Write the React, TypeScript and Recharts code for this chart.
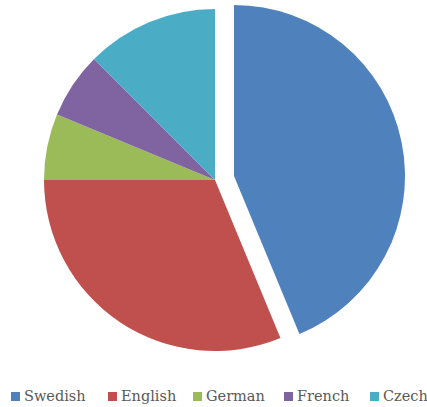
import React from "react";
import { PieChart, Pie, Cell, Legend } from "recharts";

const languages = ["Swedish", "English", "German", "French", "Czech"];
const counts = [7, 5, 1, 1, 2];
const colors = ["#4F81BD", "#C0504D", "#9BBB59", "#8064A2", "#4BACC6"];

const data = languages.map((name, i) => ({ name, value: counts[i] }));

const legendX = [11, 108, 193, 284, 370];

const renderLegend = () => {
  return (
    <div style={{ position: "relative", width: 427, height: 20 }}>
      {languages.map((name, i) => (
        <div
          key={name}
          style={{
            position: "absolute",
            left: legendX[i],
            top: 0,
            display: "flex",
            alignItems: "center",
            height: 20,
            whiteSpace: "nowrap",
          }}
        >
          <span style={{ display: "inline-block", width: 9, height: 9, background: colors[i], marginRight: 4 }} />
          <span style={{ fontFamily: "'DejaVu Serif', serif", fontSize: 14.5, color: "#595959" }}>{name}</span>
        </div>
      ))}
    </div>
  );
};

export default function App() {
  return (
    <div style={{ position: "absolute", left: 0, top: 0, width: 427, height: 407, background: "#fff" }}>
      <PieChart width={427} height={407} margin={{ top: 0, right: 0, bottom: 0, left: 0 }}>
        <Pie
          data={data}
          dataKey="value"
          nameKey="name"
          cx={215}
          cy={180}
          outerRadius={171}
          startAngle={90}
          endAngle={-270}
          stroke="none"
          isAnimationActive={false}
        >
          {data.map((d, i) => (
            <Cell key={d.name} fill={i === 0 ? "transparent" : colors[i]} />
          ))}
        </Pie>
        <Pie
          data={data}
          dataKey="value"
          nameKey="name"
          cx={234}
          cy={176}
          outerRadius={171}
          startAngle={90}
          endAngle={-270}
          stroke="none"
          legendType="none"
          isAnimationActive={false}
        >
          {data.map((d, i) => (
            <Cell key={d.name} fill={i === 0 ? colors[0] : "transparent"} />
          ))}
        </Pie>
        <Legend
          content={renderLegend}
          wrapperStyle={{ position: "absolute", left: 0, top: 386, width: 427 }}
        />
      </PieChart>
    </div>
  );
}
